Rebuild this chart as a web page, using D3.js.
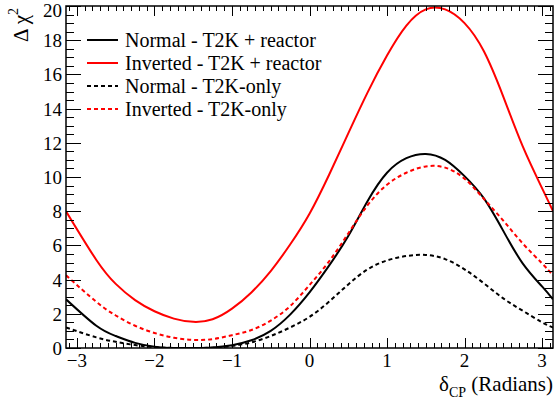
<!DOCTYPE html>
<html>
<head>
<meta charset="utf-8">
<script src="https://cdn.jsdelivr.net/npm/d3@7/dist/d3.min.js"></script>
<style>
  body { margin: 0; background: #fff; }
  svg { display: block; }
  text { font-family: "Liberation Serif", "DejaVu Serif", serif; fill: #000; }
</style>
</head>
<body>
<div id="chart"></div>
<script>
// delta_CP sample points (radians)
var deltaCP = [-3.1416, -2.75, -2.5, -2.25, -2.0, -1.75, -1.5, -1.25, -1.0, -0.75, -0.5, -0.25, 0,
               0.25, 0.5, 0.75, 1.0, 1.25, 1.5, 1.75, 2.0, 2.25, 2.5, 2.75, 3.0, 3.1416];

// delta chi^2
var normalReactor   = [2.85, 1.3, 0.7, 0.3, 0.08, 0.0, 0.0, 0.03, 0.16, 0.45, 1.0, 1.95, 3.25,
                       4.8, 6.55, 8.6, 10.25, 11.1, 11.35, 11.0, 10.05, 8.75, 6.85, 4.95, 3.6, 2.85];
var invertedReactor = [8.0, 5.15, 3.75, 2.8, 2.15, 1.72, 1.53, 1.68, 2.3, 3.25, 4.5, 6.05, 7.85,
                       10.1, 12.55, 14.95, 17.1, 18.85, 19.8, 19.8, 19.0, 17.35, 14.7, 11.8, 9.35, 8.0];
var normalT2K       = [1.2, 0.62, 0.36, 0.17, 0.05, 0.0, 0.0, 0.02, 0.12, 0.33, 0.7, 1.2, 1.82,
                       2.7, 3.72, 4.6, 5.12, 5.38, 5.44, 5.2, 4.6, 3.78, 2.9, 2.18, 1.5, 1.2];
var invertedT2K     = [4.25, 2.7, 1.9, 1.3, 0.88, 0.6, 0.47, 0.52, 0.75, 1.05, 1.6, 2.45, 3.68,
                       5.05, 6.7, 8.35, 9.55, 10.25, 10.62, 10.55, 9.9, 8.72, 7.45, 6.12, 4.95, 4.25];

var seriesNames = ["Normal - T2K + reactor", "Inverted - T2K + reactor", "Normal - T2K-only", "Inverted - T2K-only"];
var seriesValues = [normalReactor, invertedReactor, normalT2K, invertedT2K];
var seriesColors = ["#000000", "#ff0000", "#000000", "#ff0000"];
var seriesDashed = [false, false, true, true];

var xTicks = [-3, -2, -1, 0, 1, 2, 3];
var yTicks = [0, 2, 4, 6, 8, 10, 12, 14, 16, 18, 20];

var width = 555, height = 407;
var margin = {left: 66, right: 2, top: 6, bottom: 59};

var svg = d3.select("#chart").append("svg")
    .attr("width", width)
    .attr("height", height);

var x = d3.scaleLinear().domain([-Math.PI, Math.PI]).range([margin.left, width - margin.right]);
var y = d3.scaleLinear().domain([0, 20]).range([height - margin.bottom, margin.top]);

var x0 = x.range()[0], x1 = x.range()[1], y0 = y.range()[0], y1 = y.range()[1];

svg.append("defs").append("clipPath").attr("id", "plotClip")
    .append("rect").attr("x", x0).attr("y", y1 - 1).attr("width", x1 - x0).attr("height", y0 - y1 + 1);

// curves
var line = d3.line()
    .x(function (d) { return x(d[0]); })
    .y(function (d) { return y(d[1]); })
    .curve(d3.curveNatural);

var plot = svg.append("g").attr("clip-path", "url(#plotClip)");
seriesValues.forEach(function (vals, i) {
    var pts = deltaCP.map(function (d, j) { return [d, vals[j]]; });
    plot.append("path")
        .datum(pts)
        .attr("d", line)
        .attr("fill", "none")
        .attr("stroke", seriesColors[i])
        .attr("stroke-width", 2)
        .attr("stroke-dasharray", seriesDashed[i] ? "4,3" : null);
});

// axes (ROOT style: ticks on all four sides, pointing inwards)
var axisColor = "#000";
var xMinor = d3.range(-31, 32).map(function (i) { return i / 10; }).filter(function (v) { return Math.abs(v) <= Math.PI; });
var yMinor = d3.range(0, 41).map(function (i) { return i / 2; });

var ticks = svg.append("g").attr("stroke", axisColor).attr("stroke-width", 1);
xMinor.forEach(function (v) {
    var major = Math.abs(v - Math.round(v)) < 1e-6;
    var len = major ? 10 : 5;
    var px = Math.round(x(v)) + 0.5;
    ticks.append("line").attr("x1", px).attr("x2", px).attr("y1", y0).attr("y2", y0 - len);
    ticks.append("line").attr("x1", px).attr("x2", px).attr("y1", y1).attr("y2", y1 + len);
});
yMinor.forEach(function (v) {
    var major = v % 2 === 0;
    var len = major ? 15 : 8;
    var py = Math.round(y(v)) + 0.5;
    ticks.append("line").attr("x1", x0).attr("x2", x0 + len).attr("y1", py).attr("y2", py);
    ticks.append("line").attr("x1", x1).attr("x2", x1 - len).attr("y1", py).attr("y2", py);
});

svg.append("rect")
    .attr("x", x0).attr("y", y1)
    .attr("width", x1 - x0).attr("height", y0 - y1)
    .attr("fill", "none").attr("stroke", axisColor).attr("stroke-width", 1.5);

// tick labels
svg.append("g").selectAll("text").data(xTicks).enter().append("text")
    .attr("x", function (d) { return x(d); })
    .attr("y", y0 + 19)
    .attr("text-anchor", "middle")
    .style("font-size", "19px")
    .text(function (d) { return d < 0 ? "\u2212" + Math.abs(d) : d; });

svg.append("g").selectAll("text").data(yTicks).enter().append("text")
    .attr("x", x0 - 4)
    .attr("y", function (d) { return Math.max(y(d) + 7, 17); })
    .attr("text-anchor", "end")
    .style("font-size", "19px")
    .text(function (d) { return d; });

// axis titles
var xTitle = svg.append("text")
    .attr("x", x1)
    .attr("y", 391)
    .attr("text-anchor", "end")
    .style("font-size", "21px");
xTitle.append("tspan").text("\u03b4");
xTitle.append("tspan").attr("dy", 6).style("font-size", "14px").text("CP");
xTitle.append("tspan").attr("dy", -6).text(" (Radians)");

var yTitle = svg.append("text")
    .attr("transform", "translate(28,8) rotate(-90)")
    .attr("text-anchor", "end")
    .style("font-size", "21px");
yTitle.append("tspan").text("\u0394 \u03c7");
yTitle.append("tspan").attr("dy", -10).style("font-size", "14px").text("2");

// legend
var legend = svg.append("g");
seriesNames.forEach(function (name, i) {
    var ly = 40 + i * 23;
    legend.append("line")
        .attr("x1", 87).attr("x2", 118).attr("y1", ly).attr("y2", ly)
        .attr("stroke", seriesColors[i])
        .attr("stroke-width", 2)
        .attr("stroke-dasharray", seriesDashed[i] ? "4,3" : null);
    legend.append("text")
        .attr("x", 125)
        .attr("y", ly + 7)
        .style("font-size", "20px")
        .text(name);
});
</script>
</body>
</html>
